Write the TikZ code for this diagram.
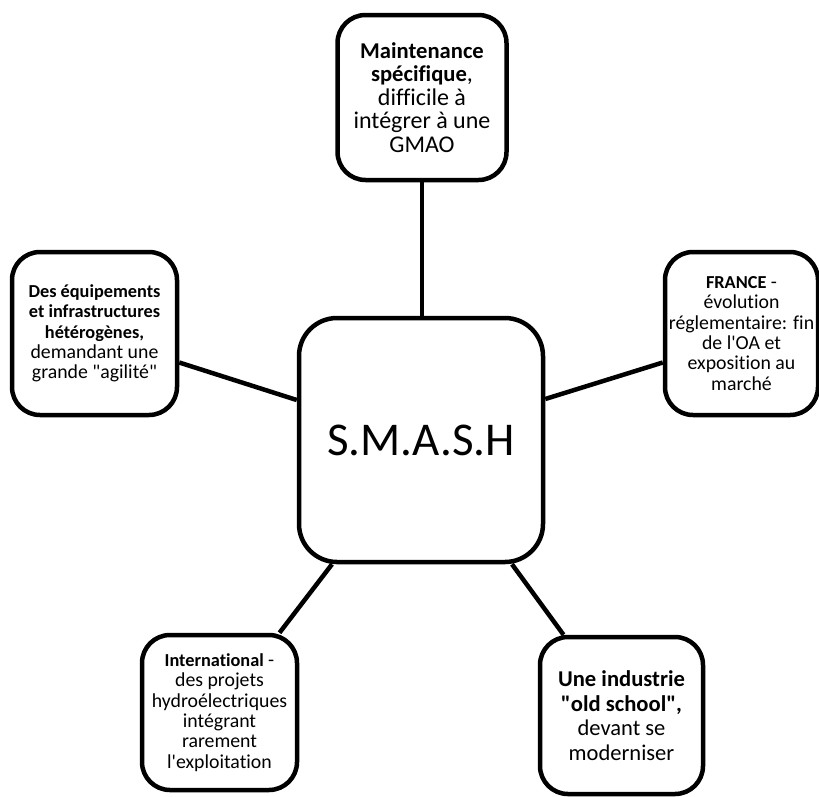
\documentclass[tikz,border=0pt]{standalone}
\usepackage{fontspec}
\setmainfont{Carlito}[Ligatures={TeXOff,CommonOff}]
\newcommand{\sB}[1]{{\fontsize{18.3}{20.3}\selectfont\bfseries #1}}
\newcommand{\lB}[1]{{\fontsize{22.6}{23.5}\selectfont\bfseries #1}}
\begin{document}
\begin{tikzpicture}[x=1pt,y=-1pt,
  box/.style={draw=black, line width=4.5pt, rounded corners=28pt, fill=white,
    align=center, inner sep=0pt},
  small/.style={font=\fontsize{19.8}{20.3}\selectfont},
  large/.style={font=\fontsize{24}{23.5}\selectfont},
  link/.style={line width=4.5pt}]
\useasboundingbox (0,0) rectangle (819,796);
\node[box, rounded corners=38pt, minimum width=244pt, minimum height=244pt,
  font=\fontsize{47}{52}\selectfont] (C) at (421,440) {S.M.A.S.H};
\node[box, large, minimum width=169pt, minimum height=165pt] (T) at (422,97.5)
  {\lB{Maintenance}\\\lB{spécifique}, \\difficile à\\intégrer à une\\GMAO};
\node[box, small, minimum width=165pt, minimum height=163pt] (L) at (94.5,333.5)
  {\sB{Des équipements}\\\sB{et infrastructures}\\\sB{hétérogènes,}\\demandant une\\grande "agilité"};
\node[box, small, minimum width=153pt, minimum height=163pt] (R) at (741.5,333.5)
  {\sB{FRANCE} -\\évolution\\réglementaire: fin\\de l'OA et\\exposition au\\marché};
\node[box, small, minimum width=155pt, minimum height=155pt] (BL) at (219.5,712.5)
  {\sB{International} -\\des projets\\hydroélectriques\\intégrant\\rarement\\l'exploitation};
\node[box, large, font=\fontsize{22.5}{24.5}\selectfont, minimum width=163pt, minimum height=157pt] (BR) at (621.5,715.5)
  {\lB{Une industrie}\\\lB{"old school",}\\devant se\\moderniser};
\draw[link] (T.south) -- (T.south |- C.north);
\draw[link] ([yshift=-29pt]L.east) -- ([yshift=40pt]C.west);
\draw[link] ([yshift=-29pt]R.west) -- ([yshift=41pt]C.east);
\draw[link] ([xshift=-89pt]C.south) -- ([xshift=60pt]BL.north);
\draw[link] ([xshift=91pt]C.south) -- ([xshift=-58pt]BR.north);
\end{tikzpicture}
\end{document}
